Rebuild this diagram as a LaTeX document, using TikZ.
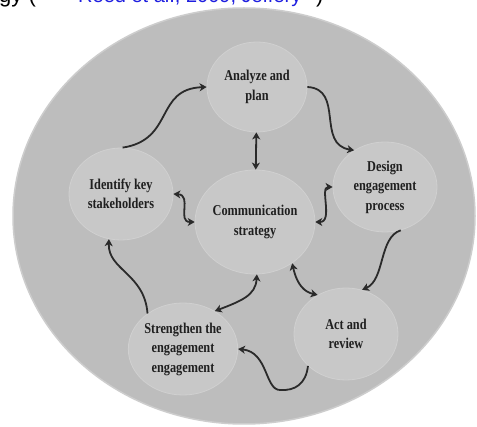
\documentclass[tikz,border=0pt]{standalone}
\usepackage{fontspec}
\newfontfamily\stagefont[FakeStretch=0.82]{Liberation Serif}
\newfontfamily\capfont{Liberation Sans}
\usetikzlibrary{shapes.geometric,arrows.meta}
\definecolor{ringgray}{HTML}{BDBDBD}
\definecolor{ringedge}{HTML}{CDCDCD}
\definecolor{stagegray}{HTML}{C8C8C8}
\definecolor{stageedge}{HTML}{D0D0D0}
\definecolor{arrowgray}{HTML}{2A2A2A}
\definecolor{linkblue}{HTML}{1F1FE0}

\begin{document}
\begin{tikzpicture} [
    x=1pt, y=-1pt,
    stage/.style = { ellipse, draw=stageedge, line width=0.8pt, fill=stagegray,
                     minimum width=104pt, minimum height=92pt, inner sep=0pt,
                     align=center, text=black!88,
                     font=\stagefont\bfseries\fontsize{15}{19.5}\selectfont },
    line/.style  = { draw=arrowgray, line width=1.8pt,
                     -{Stealth[length=7pt,width=8pt,inset=2pt]} },
    both/.style  = { line, {Stealth[length=7pt,width=8pt,inset=2pt]}-{Stealth[length=7pt,width=8pt,inset=2pt]} },
    caption/.style = { anchor=base west, inner sep=0pt,
                       font=\capfont\fontsize{22}{26}\selectfont },
  ]

  \useasboundingbox (0,0) rectangle (477,427);
  \fill[white] (0,0) rectangle (477,427);

  % caption cut off at the top
  \node[caption] (capleft) at (-1,3) {gy (};
  \node[caption, text=linkblue, font=\capfont\fontsize{20}{24}\selectfont] (capref) at (78,2.5) {Reed et al., 2009; Jeffery};
  \node[caption] (capright) at (316,3) {)};

  % outer ring
  \fill[ringgray, draw=ringedge, line width=1.5pt] (244,216) ellipse [x radius=231, y radius=208];

  % stages
  \node[stage, minimum width=100pt, minimum height=90pt] (analyze) at (257,87) {Analyze and\\plan};
  \node[stage] (identify) at (121,194) {Identify key\\stakeholders};
  \node[stage, minimum height=104pt] (comm) at (255,222) {Communication\\strategy};
  \node[stage, minimum height=90pt] (design) at (385,187) {Design\\engagement\\process};
  \node[stage] (strengthen) at (183,349) {Strengthen the\\engagement\\engagement};
  \node[stage] (act) at (346,334) {Act and\\review};

  % cycle
  \path [line] (identify.88) .. controls +(52,-8) and +(-52,2) .. (analyze.180);
  \path [line] (analyze.0) .. controls +(37,2) and +(-38,-6) .. (design.130);
  \path [line] (design.-70) .. controls +(-22,7) and +(23,-10) .. (act.70);
  \path [line] (act.220) .. controls +(-2,18) and +(15,1) .. (280,390)
                         .. controls +(-15,0) and +(30,3) .. (strengthen.0);
  \path [line] (strengthen.135) .. controls +(-3,-40) and +(-1,31) .. (identify.255);

  % to and from the centre
  \path [both] (analyze) -- (comm);
  \path [both] (identify.0) .. controls +(19,1) and +(-18,0) .. (comm.180);
  \path [both] (design.180) .. controls +(-13,0) and +(18,0) .. (comm.0);
  \path [both] (strengthen.50) .. controls +(26,-10) and +(-1,21) .. (comm.-88);
  \path [both] (comm.-48) .. controls +(5,22) and +(-13,-3) .. (act.126);
\end{tikzpicture}
\end{document}
